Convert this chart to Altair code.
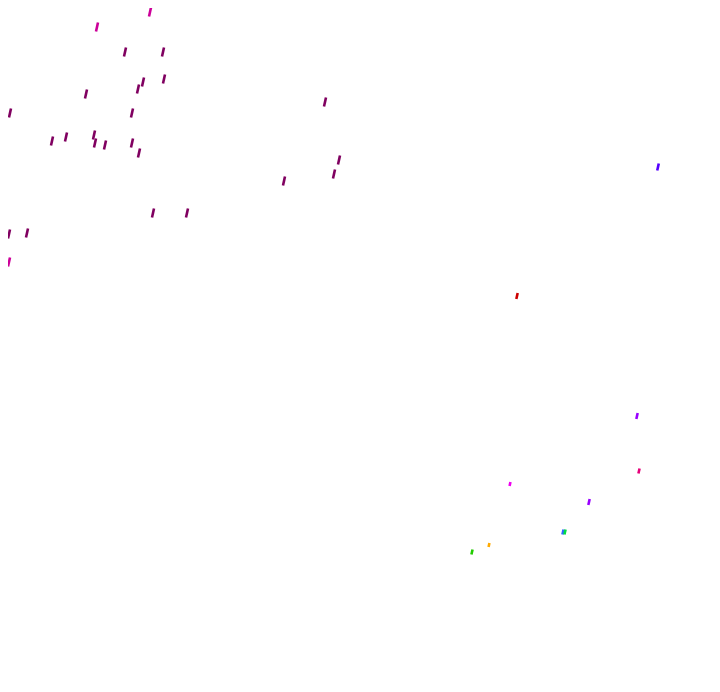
import altair as alt
import pandas as pd

# centre positions of each streak (page pixels)
xs = [150, 97, 9,
      125, 163, 164, 143, 138, 86, 132, 10, 325, 52, 66, 94, 95, 105, 132, 139,
      339, 334, 284, 153, 187, 9, 27,
      658, 517, 637, 639, 510, 589, 563, 565, 489, 472]
ys = [12, 27, 262,
      52, 52, 79, 82, 89, 94, 113, 113, 102, 141, 137, 135, 143, 145, 143, 153,
      160, 174, 181, 213, 213, 234, 233,
      167, 296, 416, 471, 484, 502, 532, 532, 545, 552]
groups = ["pink"] * 3 + ["plum"] * 23 + ["violet", "red", "purple", "rose",
          "magenta", "purple", "blue", "green", "orange", "lime"]
lengths = [9] * 26 + [7, 6, 6, 5, 4, 6, 5, 5, 4, 5]

palette = {
    "pink": "#cc0099", "plum": "#800060", "violet": "#5500ff", "red": "#cc0000",
    "purple": "#9900ff", "rose": "#e6007a", "magenta": "#ee00ee",
    "blue": "#3366ff", "green": "#00dd44", "orange": "#ffaa00", "lime": "#22cc00",
}

df = pd.DataFrame({"x": xs, "y": ys, "g": groups, "len": lengths})

W, H = 704, 676
xscale = alt.Scale(domain=[8, 8 + W])
yscale = alt.Scale(domain=[8 + H, 8])

chart = (
    alt.Chart(df)
    .transform_calculate(
        x1="datum.x - datum.len / 9",
        x2="datum.x + datum.len / 9",
        y1="datum.y + datum.len / 2",
        y2="datum.y - datum.len / 2",
    )
    .mark_rule(strokeWidth=2.6, strokeCap="butt")
    .encode(
        x=alt.X("x1:Q", scale=xscale, axis=None),
        x2="x2:Q",
        y=alt.Y("y1:Q", scale=yscale, axis=None),
        y2="y2:Q",
        color=alt.Color("g:N", scale=alt.Scale(domain=list(palette.keys()),
                                               range=list(palette.values())),
                        legend=None),
    )
    .properties(width=W, height=H, padding=0, autosize="none")
    .configure_view(stroke=None)
)

chart.save("out.html", embed_options={"renderer": "svg", "actions": False})
